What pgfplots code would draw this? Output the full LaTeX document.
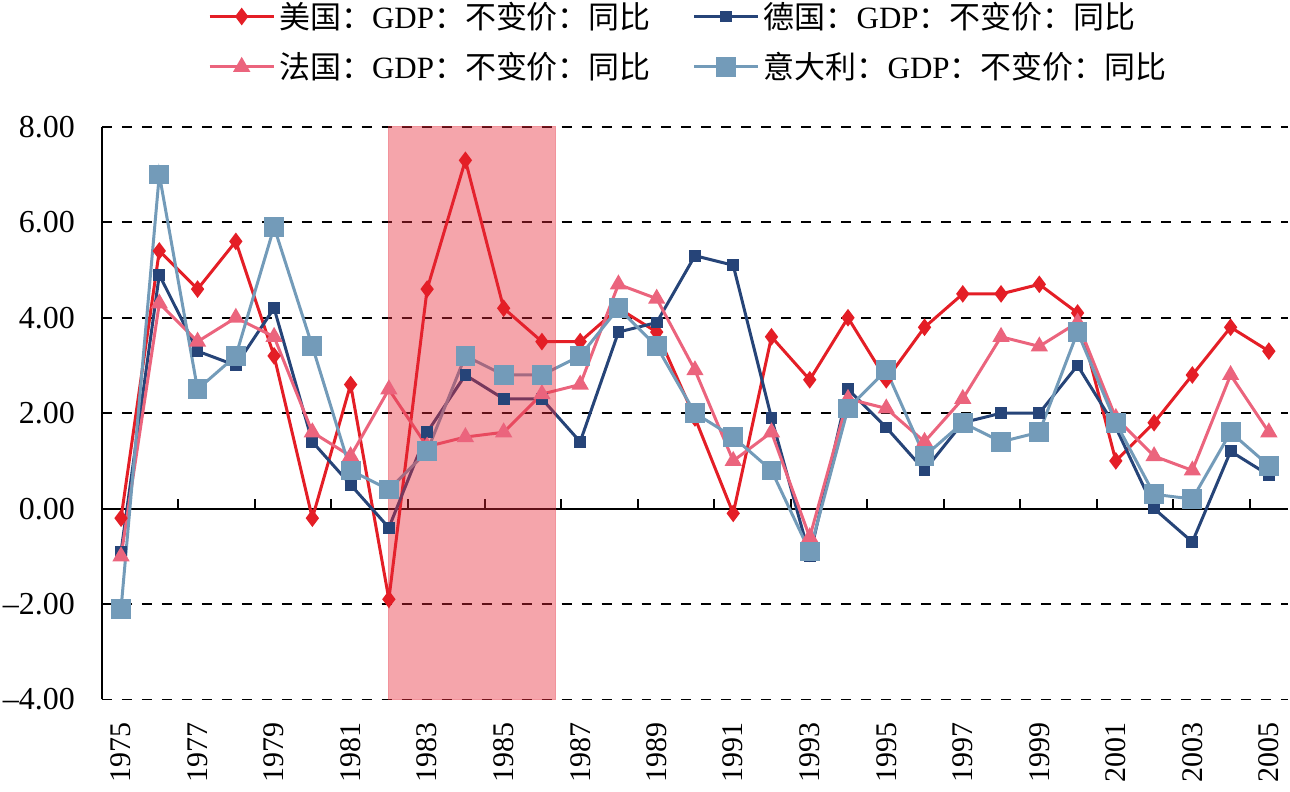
\documentclass[border=0pt]{standalone}
\usepackage{fontspec}
\setmainfont{Liberation Serif}
\newfontfamily\cjk{Noto Sans CJK SC}
\usepackage{pgfplots}
\pgfplotsset{compat=1.18}
\definecolor{cUS}{RGB}{228,30,38}
\definecolor{cDE}{RGB}{38,68,120}
\definecolor{cFR}{RGB}{235,100,125}
\definecolor{cIT}{RGB}{115,155,185}
\definecolor{shade}{RGB}{230,40,55}

\pgfplotstableread{
year us de fr it
1975 -0.2 -0.9 -1.0 -2.1
1976 5.4 4.9 4.3 7.0
1977 4.6 3.3 3.5 2.5
1978 5.6 3.0 4.0 3.2
1979 3.2 4.2 3.6 5.9
1980 -0.2 1.4 1.6 3.4
1981 2.6 0.5 1.1 0.8
1982 -1.9 -0.4 2.5 0.4
1983 4.6 1.6 1.3 1.2
1984 7.3 2.8 1.5 3.2
1985 4.2 2.3 1.6 2.8
1986 3.5 2.3 2.4 2.8
1987 3.5 1.4 2.6 3.2
1988 4.2 3.7 4.7 4.2
1989 3.7 3.9 4.4 3.4
1990 1.9 5.3 2.9 2.0
1991 -0.1 5.1 1.0 1.5
1992 3.6 1.9 1.6 0.8
1993 2.7 -1.0 -0.6 -0.9
1994 4.0 2.5 2.3 2.1
1995 2.7 1.7 2.1 2.9
1996 3.8 0.8 1.4 1.1
1997 4.5 1.8 2.3 1.8
1998 4.5 2.0 3.6 1.4
1999 4.7 2.0 3.4 1.6
2000 4.1 3.0 3.9 3.7
2001 1.0 1.7 1.9 1.8
2002 1.8 0.0 1.1 0.3
2003 2.8 -0.7 0.8 0.2
2004 3.8 1.2 2.8 1.6
2005 3.3 0.7 1.6 0.9
}\gdp

\begin{document}
\begin{tikzpicture}
\useasboundingbox (-51pt,-46pt) rectangle (594.5pt,350pt);
\begin{axis}[
  at={(0pt,0pt)}, anchor=south west,
  scale only axis, width=593.5pt, height=286.5pt,
  xmin=1974.5, xmax=2005.5, ymin=-4, ymax=8,
  separate axis lines,
  axis x line*=bottom, axis y line*=left,
  x axis line style={draw=none},
  y axis line style={line width=1pt, black},
  xtick={1975,1977,...,2005},
  xtick style={draw=none},
  ytick style={draw=none},
  ytick={-4,-2,0,2,4,6,8},
  yticklabels={–4.00,–2.00,0.00,2.00,4.00,6.00,8.00},
  xticklabel style={/pgf/number format/1000 sep={}, yshift=-8pt, rotate=90, anchor=east,
     font=\fontsize{15pt}{15pt}\selectfont},
  yticklabel style={xshift=-10pt, font=\fontsize{16pt}{16pt}\selectfont},
  /pgf/number format/assume math mode=true,
  ymajorgrids,
  grid style={black, dash pattern=on 5pt off 5pt, line width=0.9pt},
  extra y ticks={0}, extra y tick labels={},
  extra y tick style={grid style={solid, black, line width=1pt}},
  legend columns=2,
  legend cell align=left,
  legend style={at={(0.0893,1.226)}, anchor=north west, draw=none, fill=none,
    inner sep=0pt, row sep=6.5pt,
    font=\fontsize{15.5pt}{15.5pt}\selectfont,
    /tikz/every even column/.append style={column sep=19pt}},
  legend image code/.code={\draw[#1, mark repeat=2, mark phase=2] plot coordinates {(0pt,0pt)(16pt,0pt)(32pt,0pt)};},
]
\addplot[ycomb, black, line width=1pt, mark=none, forget plot] coordinates {
(1976.5,0.21)(1978.5,0.21)(1980.5,0.21)(1982.5,0.21)(1984.5,0.21)(1986.5,0.21)(1988.5,0.21)(1990.5,0.21)
(1992.5,0.21)(1994.5,0.21)(1996.5,0.21)(1998.5,0.21)(2000.5,0.21)(2002.5,0.21)(2004.5,0.21)};
\addplot[cUS, line width=1.5pt, mark=diamond*, mark size=3.2pt, mark options={solid, fill=cUS, draw=cUS}] table[x=year, y=us] {\gdp};
\addlegendentry{{\cjk 美国：}GDP{\cjk ：不变价：同比}}
\addplot[cDE, line width=1.5pt, mark=square*, mark size=2.2pt, mark options={solid, fill=cDE, draw=cDE}] table[x=year, y=de] {\gdp};
\addlegendentry{{\cjk 德国：}GDP{\cjk ：不变价：同比}}
\addplot[cFR, line width=1.5pt, mark=triangle*, mark size=3.5pt, mark options={solid, fill=cFR, draw=cFR}] table[x=year, y=fr] {\gdp};
\addlegendentry{{\cjk 法国：}GDP{\cjk ：不变价：同比}}
\addplot[cIT, line width=1.5pt, mark=square*, mark size=4.2pt, mark options={solid, fill=cIT, draw=cIT}] table[x=year, y=it] {\gdp};
\addlegendentry{{\cjk 意大利：}GDP{\cjk ：不变价：同比}}
\addplot[fill=shade, fill opacity=0.42, draw=shade, draw opacity=0.5, line width=0.6pt, forget plot]
  coordinates {(1982,-4)(1982,8)(1986.35,8)(1986.35,-4)} -- cycle;
\end{axis}
\end{tikzpicture}
\end{document}
